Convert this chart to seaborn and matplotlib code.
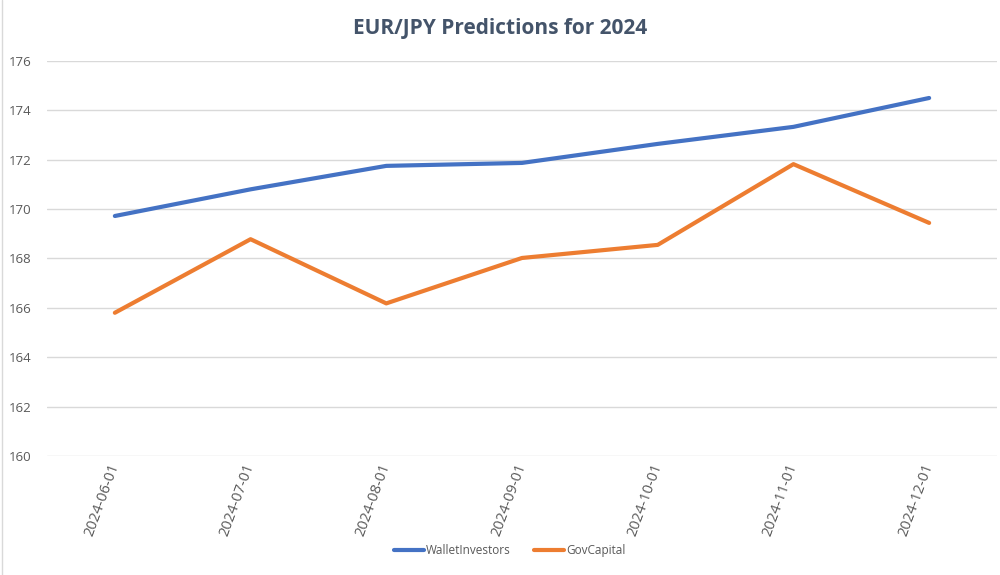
import numpy as np
import pandas as pd
import matplotlib
matplotlib.use("Agg")
import matplotlib.pyplot as plt
import seaborn as sns

dates = ["2024-06-01", "2024-07-01", "2024-08-01", "2024-09-01",
         "2024-10-01", "2024-11-01", "2024-12-01"]
wallet_investors = [169.72, 170.80, 171.75, 171.87, 172.64, 173.33, 174.50]
gov_capital = [165.80, 168.78, 166.18, 168.02, 168.55, 171.82, 169.44]

df = pd.DataFrame({"date": dates,
                   "WalletInvestors": wallet_investors,
                   "GovCapital": gov_capital})
long_df = df.melt(id_vars="date", var_name="source", value_name="rate")

sns.set_theme(style="white")
plt.rcParams['font.family'] = ['Open Sans', 'DejaVu Sans']

text_col = "#595959"
fig = plt.figure(figsize=(10, 5.75), dpi=100)
ax = fig.add_axes([0.047, 0.207, 0.95, 0.687])

sns.lineplot(data=long_df, x="date", y="rate", hue="source", sort=False,
             palette={"WalletInvestors": "#4472C4", "GovCapital": "#ED7D31"},
             linewidth=3, ax=ax)

ax.set_xlim(-0.5, len(dates) - 0.5)
ax.set_ylim(160, 176)
ax.set_yticks(np.arange(160, 177, 2))
ax.yaxis.grid(True, color="#D9D9D9", linewidth=1)
ax.set_axisbelow(True)
for s in ax.spines.values():
    s.set_visible(False)
ax.set_xlabel("")
ax.set_ylabel("")
ax.tick_params(axis="y", colors=text_col, labelsize=9.5, length=0, pad=11)
ax.tick_params(axis="x", colors=text_col, labelsize=10.5, length=0, pad=6)
plt.setp(ax.get_xticklabels(), rotation=70, ha="right", va="center",
         rotation_mode="anchor")

fig.suptitle("EUR/JPY Predictions for 2024", y=0.968, fontsize=15,
             fontweight="bold", color="#44546A")

ax.get_legend().remove()
handles, labels = ax.get_legend_handles_labels()
leg = fig.legend(handles, labels, loc="center", bbox_to_anchor=(0.51, 0.042),
                 ncol=2, frameon=False, fontsize=8.5, handlelength=2.5,
                 handletextpad=0.2, columnspacing=2.0)
for t in leg.get_texts():
    t.set_color(text_col)

# thin border at left edge like the source frame
fig.add_artist(plt.Line2D([0.002, 0.002], [0, 1], color="#D9D9D9", linewidth=1))

fig.savefig("out.png", dpi=100)
